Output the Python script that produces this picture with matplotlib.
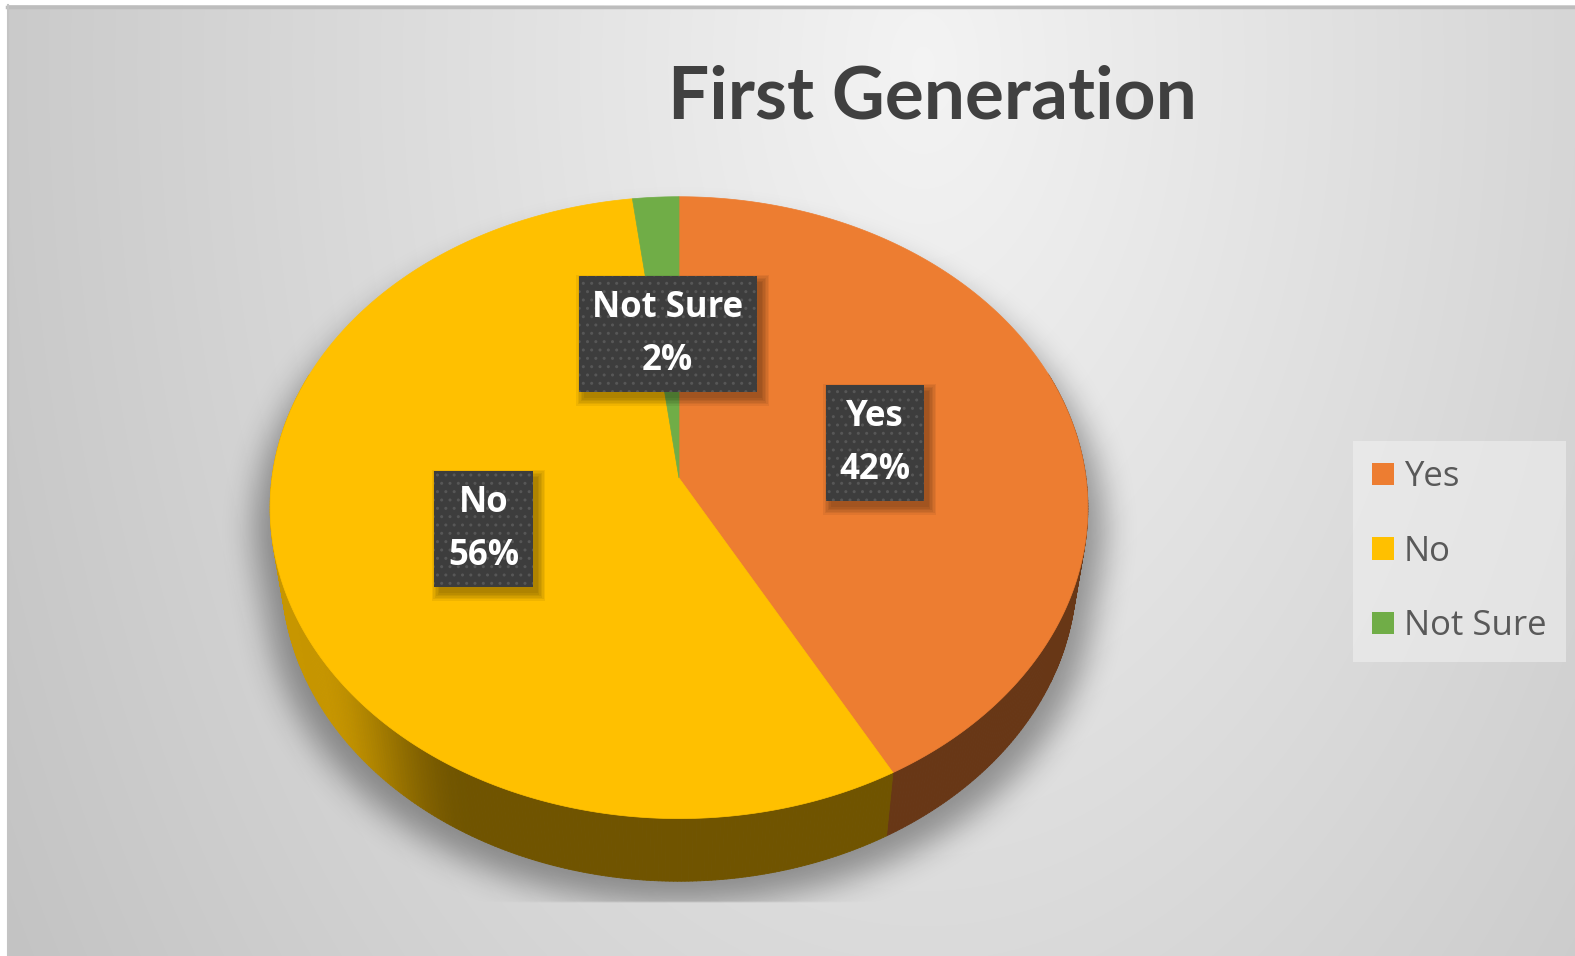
import numpy as np
import matplotlib
matplotlib.use('Agg')
import matplotlib.pyplot as plt
from matplotlib.patches import Polygon, Rectangle, Patch
from matplotlib.collections import PolyCollection
from matplotlib.path import Path

# ---------------- data ----------------
categories = ['Yes', 'No', 'Not Sure']
values = [42, 56, 2]
pct_labels = ['42%', '56%', '2%']
colors = ['#ED7D31', '#FFC000', '#70AD47']
title = 'First Generation'

TFONT = ['Lato', 'DejaVu Sans']
LFONT = ['Open Sans', 'DejaVu Sans']
W, H = 1575, 956
fig = plt.figure(figsize=(W / 100, H / 100), dpi=100)
fig.patch.set_facecolor('white')
ax = fig.add_axes([0, 0, 1, 1])
ax.set_xlim(0, W)
ax.set_ylim(H, 0)
ax.axis('off')

# ---------------- background gradient ----------------
yy, xx = np.mgrid[0:H, 0:W].astype(float)
r = np.sqrt(((xx - 920) / 850.0) ** 2 + ((yy - 60) / 1350.0) ** 2)
val = 0.955 - 0.15 * r
val = np.clip(val, 0.72, 0.96)
bg = np.dstack([val, val, val])
ax.imshow(bg, extent=(7, W, H, 5), zorder=0, interpolation='bilinear', aspect='auto')
ax.plot([7, W], [6.5, 6.5], color='#bdbdbd', lw=2.5, zorder=1)
ax.plot([7.5, 7.5], [5, H], color='#c4c4c4', lw=1.5, zorder=1)

# ---------------- projection of a tilted disc ----------------
CX, CY, K = 679, 478, 407
TH = np.deg2rad(40.8)
DIST = 6.85
THICK = 0.256


def proj(u, v, h=0.0):
    yc = v * np.cos(TH) - h * np.sin(TH)
    zc = v * np.sin(TH) + h * np.cos(TH)
    s = 1.0 / (1.0 - zc / DIST)
    return CX + K * u * s, CY + K * yc * s


total = float(sum(values))
fracs = np.array(values) / total
bounds = np.concatenate([[0], np.cumsum(fracs)]) * 2 * np.pi

# ---------------- shadow ----------------
phi_all = np.linspace(0, 2 * np.pi, 361)
tx, ty = proj(np.sin(phi_all), -np.cos(phi_all), 0.0)
bx, by = proj(np.sin(phi_all), -np.cos(phi_all), -THICK)
pts = np.vstack([np.column_stack([tx, ty]), np.column_stack([bx, by])])


def hull(points):
    P = sorted(map(tuple, points))

    def cross(o, a, b):
        return (a[0] - o[0]) * (b[1] - o[1]) - (a[1] - o[1]) * (b[0] - o[0])
    lower, upper = [], []
    for p in P:
        while len(lower) >= 2 and cross(lower[-2], lower[-1], p) <= 0:
            lower.pop()
        lower.append(p)
    for p in reversed(P):
        while len(upper) >= 2 and cross(upper[-2], upper[-1], p) <= 0:
            upper.pop()
        upper.append(p)
    return np.array(lower[:-1] + upper[:-1])


hpts = hull(pts)
hpts[:, 0] = CX + (hpts[:, 0] - CX) * 1.04
hpts[:, 1] = hpts[:, 1] + 22
sil = Path(hpts)
step = 2
gy, gx = np.mgrid[0:H:step, 0:W:step]
mask = sil.contains_points(np.column_stack([gx.ravel(), gy.ravel()])).reshape(gx.shape).astype(float)


def box1d(a, rr, axis):
    a = np.moveaxis(a, axis, -1)
    p = np.pad(a, [(0, 0)] * (a.ndim - 1) + [(rr + 1, rr)], mode='edge')
    c = np.cumsum(p, axis=-1)
    out = (c[..., 2 * rr + 1:] - c[..., :-2 * rr - 1]) / (2 * rr + 1)
    return np.moveaxis(out, -1, axis)


for _ in range(3):
    mask = box1d(mask, 7, 0)
    mask = box1d(mask, 7, 1)
mask[gy > 900] = 0
shadow = np.zeros(mask.shape + (4,))
shadow[..., 3] = mask * 0.36
ax.imshow(shadow, extent=(0, W, H, 0), zorder=2, interpolation='bilinear', aspect='auto')

# ---------------- side walls ----------------
def smooth(x):
    x = np.clip(x, 0, 1)
    return x * x * (3 - 2 * x)


quads, qcols, qdepth = [], [], []
for i in range(len(values)):
    n = max(3, int(np.degrees(bounds[i + 1] - bounds[i]) * 2))
    ph = np.linspace(bounds[i], bounds[i + 1], n + 1)
    base = np.array(matplotlib.colors.to_rgb(colors[i]))
    for a0, a1 in zip(ph[:-1], ph[1:]):
        am = 0.5 * (a0 + a1)
        v_m = -np.cos(am)
        if v_m < -0.35:
            continue
        u_m = np.sin(am)
        f = 0.44 + 0.34 * smooth((-u_m - 0.48) / 0.36)
        x0t, y0t = proj(np.sin(a0), -np.cos(a0), 0)
        x1t, y1t = proj(np.sin(a1), -np.cos(a1), 0)
        x0b, y0b = proj(np.sin(a0), -np.cos(a0), -THICK)
        x1b, y1b = proj(np.sin(a1), -np.cos(a1), -THICK)
        quads.append([(x0t, y0t), (x1t, y1t), (x1b, y1b), (x0b, y0b)])
        qcols.append(tuple(base * f))
        qdepth.append(v_m)
order = np.argsort(qdepth)
pc = PolyCollection([quads[j] for j in order], facecolors=[qcols[j] for j in order],
                    edgecolors=[qcols[j] for j in order], linewidths=0.6, zorder=3)
ax.add_collection(pc)

# ---------------- top faces ----------------
for i in range(len(values)):
    n = max(4, int(np.degrees(bounds[i + 1] - bounds[i]) * 2))
    ph = np.linspace(bounds[i], bounds[i + 1], n + 1)
    xs, ys = proj(np.sin(ph), -np.cos(ph), 0)
    poly = np.vstack([[CX, CY], np.column_stack([xs, ys])])
    ax.add_patch(Polygon(poly, closed=True, facecolor=colors[i], edgecolor=colors[i],
                         lw=0.5, zorder=4))

# ---------------- data labels ----------------
texts = []
for i in range(len(values)):
    am = 0.5 * (bounds[i] + bounds[i + 1])
    lx, ly = proj(0.5 * np.sin(am), -0.5 * np.cos(am), 0)
    t = ax.text(lx + 1, ly + 3, f'{categories[i]}\n{pct_labels[i]}', ha='center', va='center',
                multialignment='center', fontsize=25, fontweight='bold', color='white',
                family=LFONT, linespacing=1.62, zorder=7,
                bbox=dict(boxstyle='square,pad=0.39', facecolor='#3d3d3d',
                          edgecolor='#575757', linewidth=0, hatch='..'))
    texts.append(t)

fig.canvas.draw()
renderer = fig.canvas.get_renderer()
for t in texts:
    bb = t.get_bbox_patch().get_window_extent(renderer)
    x0, x1 = bb.x0, bb.x1
    y0, y1 = H - bb.y1, H - bb.y0
    for k in range(6):
        e = 1.5 * k
        ax.add_patch(Rectangle((x0 + 5 - e, y0 + 6 - e), (x1 - x0) + 2 * e, (y1 - y0) + 2 * e,
                               facecolor='black', edgecolor='none', alpha=0.06, zorder=6))

# ---------------- title ----------------
ax.text(932, 118, title, ha='center', va='baseline', fontsize=52.5, fontweight='bold',
        color='#404040', family=TFONT, zorder=8)

# ---------------- legend ----------------
handles = [Patch(facecolor=c, edgecolor='none') for c in colors]
leg = ax.legend(handles, categories, loc='upper left',
                bbox_to_anchor=(1353 / W, 1 - 441 / H), bbox_transform=ax.transAxes,
                borderaxespad=0, frameon=True, fancybox=False, framealpha=0.55,
                prop={'family': LFONT, 'size': 25}, labelcolor='#595959',
                handlelength=0.63, handleheight=0.63, handletextpad=0.29,
                labelspacing=1.17, borderpad=0.55)
leg.get_frame().set_facecolor('#f2f2f2')
leg.get_frame().set_edgecolor('none')
leg.set_zorder(9)

fig.savefig('out.png', dpi=100, facecolor=fig.get_facecolor())
